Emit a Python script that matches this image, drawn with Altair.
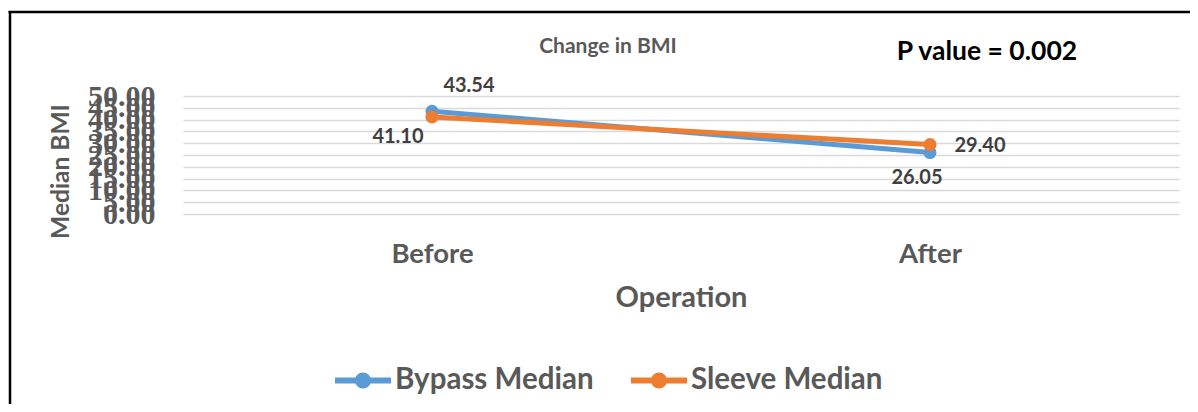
import altair as alt
import pandas as pd

categories = ["Before", "After"]
series_names = ["Bypass Median", "Sleeve Median"]
bypass_values = [43.54, 26.05]
sleeve_values = [41.10, 29.40]
y_ticks = [0, 5, 10, 15, 20, 25, 30, 35, 40, 45, 50]
chart_title = "Change in BMI"
p_value_text = "P value = 0.002"
x_title = "Operation"
y_title = "Median BMI"
colors = ["#5B9BD5", "#ED7D31"]

rows = []
for name, vals in zip(series_names, [bypass_values, sleeve_values]):
    for cat, v in zip(categories, vals):
        rows.append({"phase": cat, "series": name, "value": v})
df = pd.DataFrame(rows)

FONT = "Lato"
GREY = "#595959"

# legend symbol: line with a dot (dot drawn as thick stroked small circles)
sym = ("M-1,0L1,0"
       "M0.18,0A0.18,0.18,0,1,1,-0.18,0A0.18,0.18,0,1,1,0.18,0Z"
       "M0.06,0A0.06,0.06,0,1,1,-0.06,0A0.06,0.06,0,1,1,0.06,0Z")

legend = alt.Legend(
    title=None, orient="none", legendX=149, legendY=253, direction="horizontal",
    symbolType=sym, symbolSize=3136, symbolStrokeWidth=6,
    labelFont=FONT, labelFontSize=29.5, labelFontWeight="bold", labelColor=GREY,
    labelOffset=1, columnPadding=25, padding=0, labelLimit=0,
)

x_enc = alt.X(
    "phase:N", sort=categories,
    scale=alt.Scale(type="point", padding=0.5),
    axis=alt.Axis(
        title=x_title, labelAngle=0, domain=False, ticks=False, grid=False,
        labelFont=FONT, labelFontSize=27.5, labelFontWeight="bold", labelColor=GREY,
        labelPadding=26, titleFont=FONT, titleFontSize=29, titleFontWeight="bold",
        titleColor=GREY, titlePadding=16,
    ),
)
y_enc = alt.Y(
    "value:Q",
    scale=alt.Scale(domain=[0, 50], nice=False, zero=True),
    axis=alt.Axis(
        values=y_ticks, format=".2f", title=y_title, domain=False, ticks=False,
        grid=True, gridColor="#d9d9d9", gridWidth=1.6,
        labelFont="Liberation Serif", labelFontSize=30, labelFontWeight="bold",
        labelColor=GREY, labelPadding=28, labelOverlap=False, labelFlush=False,
        labelBound=False,
        titleFont=FONT, titleFontSize=24.5, titleFontWeight="bold", titleColor=GREY,
        titleX=-122, titleY=75, titleAngle=-90, titleAlign="center",
        titleBaseline="middle",
    ),
)
color_enc = alt.Color(
    "series:N", sort=series_names,
    scale=alt.Scale(domain=series_names, range=colors), legend=legend,
)

base = alt.Chart(df)
lines = base.mark_line(strokeWidth=5).encode(
    x=x_enc, y=y_enc, color=color_enc
)
points = base.mark_point(filled=True, size=170, opacity=1).encode(
    x=x_enc, y=y_enc, color=color_enc
)

label_offsets = {
    ("Bypass Median", "Before"): (37, -25),
    ("Sleeve Median", "Before"): (-34, 20),
    ("Bypass Median", "After"): (-13, 25),
    ("Sleeve Median", "After"): (50, 1),
}
label_layers = []
for (s, c), (dx, dy) in label_offsets.items():
    label_layers.append(
        base.transform_filter(
            (alt.datum.series == s) & (alt.datum.phase == c)
        ).mark_text(
            dx=dx, dy=dy, font=FONT, fontSize=20, fontWeight="bold", color="#404040"
        ).encode(x=x_enc, y=y_enc, text=alt.Text("value:Q", format=".2f"))
    )

title_mark = alt.Chart(pd.DataFrame({"t": [chart_title]})).mark_text(
    font=FONT, fontSize=21, fontWeight="bold", color=GREY
).encode(text="t:N", x=alt.value(425), y=alt.value(-49))

pval_mark = alt.Chart(pd.DataFrame({"t": [p_value_text]})).mark_text(
    font=FONT, fontSize=26.5, fontWeight="bold", color="#000000"
).encode(text="t:N", x=alt.value(804), y=alt.value(-44))

border_left = alt.Chart(pd.DataFrame({"k": [0]})).mark_rule(
    color="#000000", strokeWidth=2.5
).encode(x=alt.value(-173), y=alt.value(-85), y2=alt.value(320))
border_top = alt.Chart(pd.DataFrame({"k": [0]})).mark_rule(
    color="#000000", strokeWidth=2.5
).encode(x=alt.value(-174.5), x2=alt.value(1010), y=alt.value(-84))

chart = alt.layer(
    border_left, border_top, lines, points, *label_layers, title_mark, pval_mark
).properties(
    width=996, height=118,
    autosize=alt.AutoSizeParams(type="none"),
    padding={"left": 175, "top": 88, "right": 11, "bottom": 190},
).configure_view(stroke=None)

chart.save("out.html", embed_options={"renderer": "svg", "actions": False})
